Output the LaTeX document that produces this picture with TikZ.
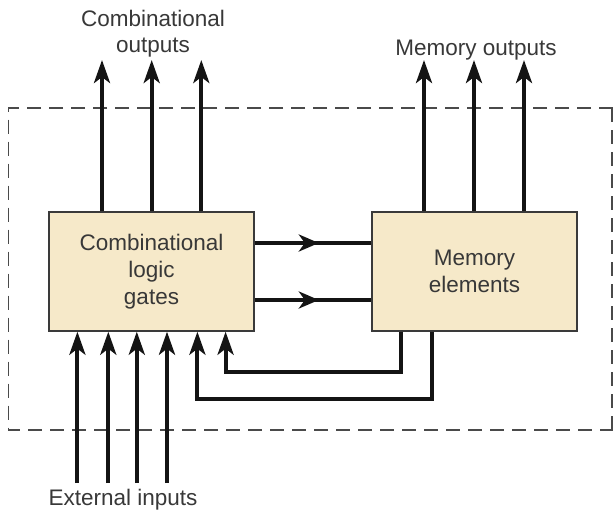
\documentclass[tikz,border=0pt]{standalone}
\usepackage{fontspec}
\setmainfont{Liberation Sans}
\usetikzlibrary{arrows.meta,decorations.markings}
\definecolor{boxfill}{HTML}{F6E9C9}
\definecolor{boxline}{HTML}{3A3A3A}
\definecolor{txt}{HTML}{383838}
\definecolor{dashcol}{HTML}{4A4A4A}
\tikzset{
  blockbox/.style={draw=boxline, line width=1.4pt, fill=boxfill, minimum width=205pt,
    minimum height=119pt, inner sep=0pt, align=center, text=txt,
    font=\fontsize{22.5}{27}\selectfont},
  lbl/.style={text=txt, inner sep=0pt, align=center, font=\fontsize{22.5}{26}\selectfont},
  sig/.style={line width=4pt, black!92, -{Stealth[length=23pt,width=16pt,inset=6pt]}},
  midarrow/.style={line width=4pt, black!92, postaction={decorate},
    decoration={markings, mark=at position #1 with {\arrow{Stealth[length=20pt,width=17pt,inset=6pt]}}}},
  frame/.style={draw=dashcol, line width=1.3pt, dash pattern=on 14pt off 8pt}
}
\begin{document}
\begin{tikzpicture}[x=1pt,y=-1pt]
\useasboundingbox (0,0) rectangle (613,512);
\draw[frame] (613,108) -- (8.6,108) -- (8.6,430) -- (613,430);
\draw[frame] (612,108) -- (612,430);

\node[blockbox] (clg) at (151.5,271.5) {Combinational\\logic\\gates};
\node[blockbox] (mem) at (474.5,271.5) {Memory\\elements};

% combinational outputs
\coordinate (co1) at (102,60);
\coordinate (co2) at (151.7,60);
\coordinate (co3) at (201.3,60);
\draw[sig] (co1 |- clg.north) -- (co1);
\draw[sig] (co2 |- clg.north) -- (co2);
\draw[sig] (co3 |- clg.north) -- (co3);
% memory outputs
\coordinate (mo1) at (424,60);
\coordinate (mo2) at (474,60);
\coordinate (mo3) at (524,60);
\draw[sig] (mo1 |- mem.north) -- (mo1);
\draw[sig] (mo2 |- mem.north) -- (mo2);
\draw[sig] (mo3 |- mem.north) -- (mo3);

% forward connections
\coordinate (h1) at (0,243);
\coordinate (h2) at (0,300);
\draw[midarrow=0.55] (clg.east |- h1) -- (mem.west |- h1);
\draw[midarrow=0.55] (clg.east |- h2) -- (mem.west |- h2);

% external inputs
\coordinate (ei1) at (77.4,483);
\coordinate (ei2) at (108.3,483);
\coordinate (ei3) at (136.8,483);
\coordinate (ei4) at (167,483);
\draw[sig] (ei1) -- (ei1 |- clg.south);
\draw[sig] (ei2) -- (ei2 |- clg.south);
\draw[sig] (ei3) -- (ei3 |- clg.south);
\draw[sig] (ei4) -- (ei4 |- clg.south);

% feedback
\coordinate (fa) at (400.7,371.7);
\coordinate (fb) at (225.6,371.7);
\coordinate (fc) at (432,399.3);
\coordinate (fd) at (197.4,399.3);
\draw[sig] (fa |- mem.south) -- (fa) -- (fb) -- (fb |- clg.south);
\draw[sig] (fc |- mem.south) -- (fc) -- (fd) -- (fd |- clg.south);

% labels
\node[lbl, anchor=north] (lco) at (153,10) {Combinational\\outputs};
\node[lbl, anchor=base] (lmo) at (476,55) {Memory outputs};
\node[lbl, anchor=base] (lei) at (123,505) {External inputs};
\end{tikzpicture}
\end{document}
